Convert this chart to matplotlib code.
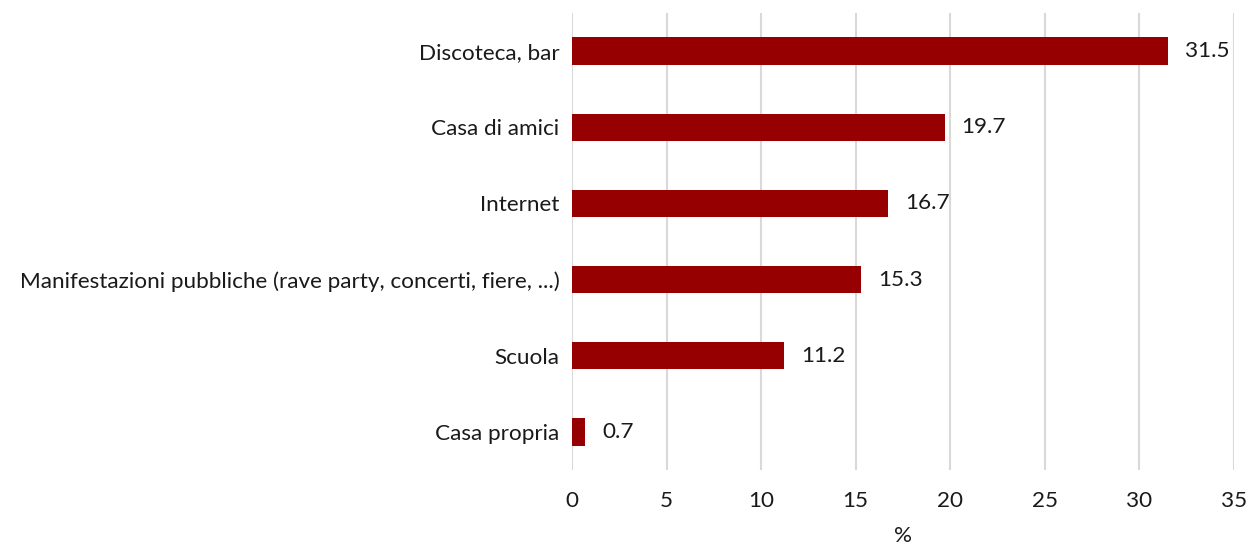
import matplotlib
matplotlib.use('Agg')
import matplotlib.pyplot as plt

# categories top to bottom as in the picture
categories = ['Discoteca, bar', 'Casa di amici', 'Internet',
              'Manifestazioni pubbliche (rave party, concerti, fiere, ...)',
              'Scuola', 'Casa propria']
values = [31.5, 19.7, 16.7, 15.3, 11.2, 0.7]
x_ticks = [0, 5, 10, 15, 20, 25, 30, 35]

plt.rcParams['font.family'] = ['Lato', 'DejaVu Sans']
FS = 16.2

fig = plt.figure(figsize=(12.47, 5.49), dpi=100)
ax = fig.add_axes([0.4587, 0.1439, 0.9896 - 0.4587, 0.9763 - 0.1439])

ypos = list(range(len(categories)))[::-1]
ax.barh(ypos, values, height=0.36, color='#960000', zorder=3)

# value labels right of each bar
for y, v in zip(ypos, values):
    ax.text(v + 0.9, y, str(v), va='center', ha='left', fontsize=FS, color='#1a1a1a')

ax.set_yticks(ypos)
ax.set_yticklabels(categories, fontsize=FS, color='#1a1a1a')
ax.set_xticks(x_ticks)
ax.set_xticklabels([str(t) for t in x_ticks], fontsize=FS, color='#1a1a1a')
ax.set_xlim(0, 35)
ax.set_ylim(-0.5, len(categories) - 0.5)
ax.set_xlabel('%', fontsize=FS, color='#1a1a1a', labelpad=11)

ax.xaxis.grid(True, color='#d9d9d9', linewidth=1.5, zorder=0)
for s in ax.spines.values():
    s.set_visible(False)
ax.tick_params(axis='both', length=0)
ax.tick_params(axis='x', pad=15)
ax.tick_params(axis='y', pad=9)

fig.savefig('out.png', dpi=100)
